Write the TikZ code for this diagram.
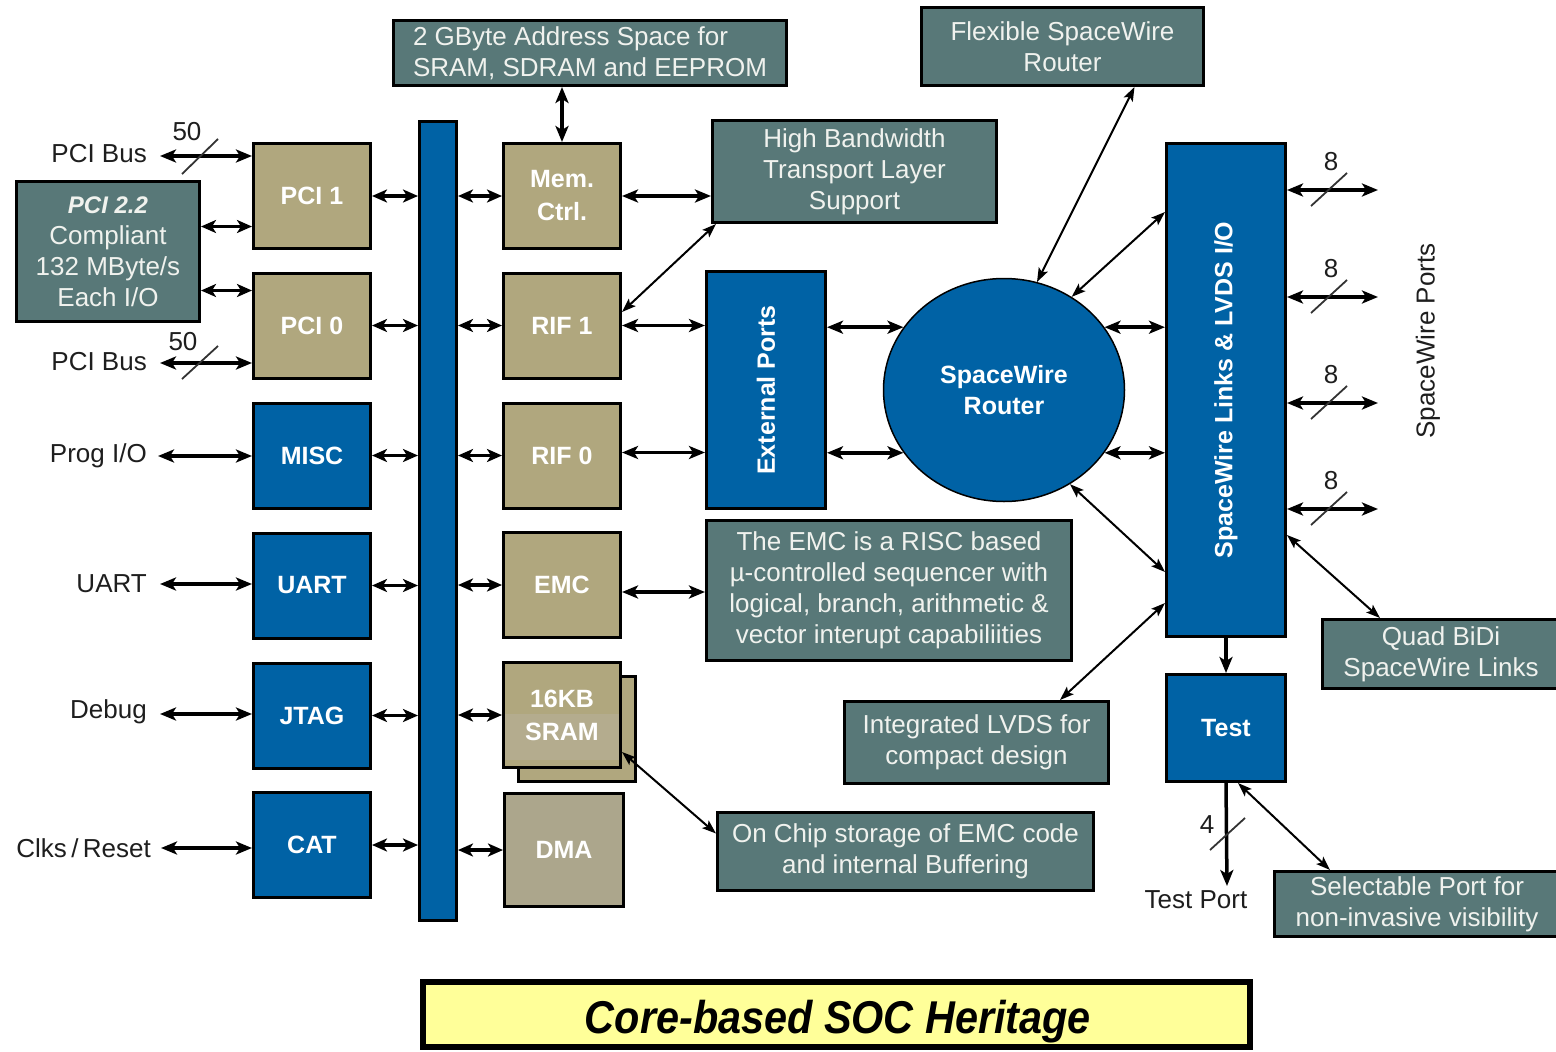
\documentclass[tikz,border=0pt]{standalone}
\usepackage{fontspec}
\usepackage{graphicx}
\setmainfont{Liberation Sans}
\usetikzlibrary{arrows.meta,shapes.geometric,calc}
\definecolor{coretan}{RGB}{176,167,126}
\definecolor{dmatan}{RGB}{172,166,140}
\definecolor{sramband}{RGB}{180,172,142}
\definecolor{chipblue}{RGB}{0,98,165}
\definecolor{slate}{RGB}{88,120,120}
\definecolor{notetext}{RGB}{240,242,238}
\definecolor{labeltext}{RGB}{30,30,30}
\definecolor{titlefill}{RGB}{255,255,153}
\newcommand{\fsz}[2]{\fontsize{#1}{#2}\selectfont}
\begin{document}
\begin{tikzpicture}[x=1pt,y=-1pt,
  cellunit/.style={draw=black, line width=3pt, inner sep=0pt, text=white, align=center, font=\fsz{25}{33}\bfseries},
  tanunit/.style={cellunit, fill=coretan, minimum width=117pt, minimum height=105pt},
  blueunit/.style={cellunit, fill=chipblue, minimum width=117pt, minimum height=105pt},
  notebox/.style={draw=black, line width=3pt, fill=slate, text=notetext, inner sep=0pt, align=center, font=\fsz{26}{31}},
  sidelabel/.style={text=labeltext, font=\fsz{26}{31}, inner sep=0pt},
  buslink/.style={{Stealth[length=15pt,width=13pt,inset=4pt]}-{Stealth[length=15pt,width=13pt,inset=4pt]}, line width=3.2pt},
  iolink/.style={{Stealth[length=16pt,width=13pt,inset=4pt]}-{Stealth[length=16pt,width=13pt,inset=4pt]}, line width=3.5pt},
  thinlink/.style={{Stealth[length=14pt,width=10pt,inset=3pt]}-{Stealth[length=14pt,width=10pt,inset=3pt]}, line width=2pt},
  oneway/.style={-{Stealth[length=16pt,width=13pt,inset=4pt]}, line width=3.5pt},
  widthmark/.style={line width=1.8pt, draw=black!80},
  ]
\useasboundingbox[fill=white] (0,0) rectangle (1556,1052);

% ---------- internal bus ----------
\node[draw=black, line width=3pt, fill=chipblue, minimum width=37pt, minimum height=799pt, inner sep=0pt] (bus) at (438,521) {};

% ---------- left column ----------
\node[tanunit]  (pci1) at (312,196)   {PCI 1};
\node[tanunit]  (pci0) at (312,325.5) {PCI 0};
\node[blueunit] (misc) at (312,455.5) {MISC};
\node[blueunit] (uart) at (312,585.5) {UART};
\node[blueunit] (jtag) at (312,715.5) {JTAG};
\node[blueunit] (cat)  at (312,845)   {CAT};

\node[notebox, minimum width=183pt, minimum height=140pt] (pci22) at (108,251.5)
  {{\fsz{24}{31}\bfseries\itshape PCI 2.2}\\Compliant\\132 MByte/s\\Each I/O};

% ---------- right of the bus ----------
\node[tanunit] (mem)  at (562,196)   {Mem.\\Ctrl.};
\node[tanunit] (rif1) at (562,325.5) {RIF 1};
\node[tanunit] (rif0) at (562,455.5) {RIF 0};
\node[tanunit] (emc)  at (562,585)   {EMC};
\node[tanunit] (sramback) at (577,728.5) {};
\node[tanunit] (sram) at (562,715) {};
\fill[sramband] ($(sram.west)+(3,-1)$) rectangle ($(sram.south east)+(-3,-9.5)$);
\node[text=white, font=\fsz{25}{33}\bfseries, align=center] (sramtext) at (sram.center) {16KB\\SRAM};
\node[cellunit, fill=dmatan, minimum width=119pt, minimum height=113pt] (dma) at (564,850) {DMA};

% ---------- notes and routing blocks ----------
\node[notebox, minimum width=393pt, minimum height=65pt, align=left] (addr) at (590,53)
  {2 GByte Address Space for\\SRAM, SDRAM and EEPROM};
\node[notebox, minimum width=284pt, minimum height=102pt] (hb) at (854.5,171.5)
  {High Bandwidth\\Transport Layer\\Support};
\node[notebox, minimum width=282pt, minimum height=78pt] (flex) at (1062.5,46.5)
  {Flexible SpaceWire\\Router};
\node[cellunit, fill=chipblue, minimum width=119pt, minimum height=237pt] (ext) at (766,390) {};
\node[rotate=90, text=white, font=\fsz{25}{30}\bfseries] (exttext) at (ext.center) {External Ports};
\node[ellipse, draw=black, line width=1.5pt, fill=chipblue, minimum width=241pt, minimum height=223pt,
      inner sep=0pt, text=white, align=center, font=\fsz{25}{31}\bfseries] (router) at (1004,390)
  {SpaceWire\\Router};
\node[cellunit, fill=chipblue, minimum width=119pt, minimum height=493pt] (swl) at (1226,390) {};
\node[rotate=90, text=white, font=\fsz{25}{30}\bfseries] (swltext) at (swl.center) {SpaceWire Links \& LVDS I/O};
\node[blueunit, minimum width=119pt, minimum height=107pt] (test) at (1226,728) {Test};

\node[notebox, minimum width=365pt, minimum height=140pt] (emcnote) at (889,590.5)
  {The EMC is a RISC based\\µ-controlled sequencer with\\logical, branch, arithmetic \&\\vector interupt capabiliities};
\node[notebox, minimum width=264pt, minimum height=82pt] (lvds) at (976.5,742.5)
  {Integrated LVDS for\\compact design};
\node[notebox, minimum width=376pt, minimum height=78pt] (onchip) at (905.5,851.5)
  {On Chip storage of EMC code\\and internal Buffering};
\node[notebox, minimum width=238pt, minimum height=69pt] (quad) at (1441,654)
  {Quad BiDi\\SpaceWire Links};
\node[notebox, minimum width=286pt, minimum height=65pt] (sel) at (1417,904)
  {Selectable Port for\\non-invasive visibility};

% ---------- outside labels ----------
\node[sidelabel, anchor=east] (lpcib1) at (147,154) {PCI Bus};
\node[sidelabel, anchor=east] (lpcib0) at (147,362) {PCI Bus};
\node[sidelabel, anchor=east] (lprog)  at (147,456) {Prog I/O};
\node[sidelabel, anchor=east] (luart)  at (147,584) {UART};
\node[sidelabel, anchor=east] (ldebug) at (147,712) {Debug};
\node[sidelabel, anchor=east] (lclk)   at (151,848) {Clks\,/\,Reset};
\node[sidelabel] (w50a) at (187,132) {50};
\node[sidelabel] (w50b) at (183,342) {50};
\node[sidelabel, rotate=90] (swports) at (1428,341) {SpaceWire Ports};
\node[sidelabel] (ltest) at (1196,900) {Test Port};
\node[sidelabel] (w4) at (1207,825) {4};

% ---------- external connections on the left ----------
\coordinate (epcib1) at (160,156);
\coordinate (epcib0) at (160,363);
\coordinate (eprog)  at (158,456);
\coordinate (euart)  at (160,584);
\coordinate (edebug) at (160,714);
\coordinate (eclk)   at (161,848);
\draw[iolink] (epcib1) -- (pci1.west |- epcib1);
\draw[iolink] (epcib0) -- (pci0.west |- epcib0);
\draw[iolink] (eprog)  -- (misc.west |- eprog);
\draw[iolink] (euart)  -- (uart.west |- euart);
\draw[iolink] (edebug) -- (jtag.west |- edebug);
\draw[iolink] (eclk)   -- (cat.west |- eclk);
\draw[widthmark] (182,174) -- (218,139);
\draw[widthmark] (182,379) -- (218,346);

\coordinate (pci22a) at ($(pci22.east)+(0,-25)$);
\coordinate (pci22b) at ($(pci22.east)+(0,39)$);
\draw[buslink] (pci22a) -- (pci1.west |- pci22a);
\draw[buslink] (pci22b) -- (pci0.west |- pci22b);

% ---------- bus attachments ----------
\foreach \blk in {pci1,pci0,misc,uart,jtag,cat}
  \draw[buslink] (\blk.east) -- (bus.west |- \blk.east);
\foreach \blk in {mem,rif1,rif0,emc,sram,dma}
  \draw[buslink] (bus.east |- \blk.west) -- (\blk.west);

% ---------- memory controller / RIF / EMC links ----------
\coordinate (rif0out) at ([yshift=3pt]rif0.east);
\coordinate (emcout) at ([yshift=-7pt]emc.east);
\draw[iolink] (mem.north |- addr.south) -- (mem.north);
\draw[iolink] (mem.east) -- (hb.west |- mem.east);
\draw[thinlink] ([yshift=13.5pt]rif1.east) -- ([xshift=5pt]hb.south west);
\draw[iolink] (rif1.east) -- (ext.west |- rif1.east);
\draw[iolink] (rif0out) -- (ext.west |- rif0out);
\draw[iolink] (emcout) -- (emcnote.west |- emcout);
\draw[thinlink] ([yshift=-37pt]sram.east) -- ([yshift=18pt]onchip.west);

% ---------- router ----------
\draw[iolink] (ext.east |- router.148) -- (router.148);
\draw[iolink] (ext.east |- router.212) -- (router.212);
\draw[iolink] (router.32)  -- (swl.west |- router.32);
\draw[iolink] (router.-32) -- (swl.west |- router.-32);
\draw[thinlink] ([xshift=72pt]flex.south) -- (router.73);
\draw[thinlink] (router.54) -- ([yshift=-70pt]swl.north west);
\draw[thinlink] (router.-55) -- ([yshift=66pt]swl.south west);
\draw[thinlink] ([xshift=83.5pt]lvds.north) -- ([yshift=35pt]swl.south west);
\draw[thinlink] ([yshift=103pt]swl.south east) -- ([xshift=-61pt]quad.north);

% ---------- SpaceWire ports ----------
\foreach \py [count=\i] in {190,297,403,509} {
  \coordinate (port\i) at (1378,\py);
  \draw[iolink] (swl.east |- port\i) -- (port\i);
  \draw[widthmark] (1311,\py+16) -- (1347,\py-17);
  \node[sidelabel] (w8\i) at (1331,\py-28) {8};
}

% ---------- test ----------
\coordinate (tport) at (1227,886);
\draw[oneway] (swl.south) -- (test.north);
\draw[oneway] (test.south) -- (tport);
\draw[widthmark] (1210,850) -- (1245,818);
\draw[thinlink] ([xshift=12pt]test.south) -- ([xshift=-87pt]sel.north);

% ---------- title ----------
\node[draw=black, line width=5pt, fill=titlefill, minimum width=828pt, minimum height=66pt, inner sep=0pt] (title) at (836.5,1014.5) {};
\draw[line width=1.3pt] ($(title.north west)+(5.5,5.5)$) rectangle ($(title.south east)+(-5.5,-5.5)$);
\node[anchor=base, font=\fsz{46}{50}\bfseries\itshape] (titletext) at (838,1033) {\scalebox{0.9}[1]{Core-based SOC Heritage}};
\end{tikzpicture}
\end{document}
